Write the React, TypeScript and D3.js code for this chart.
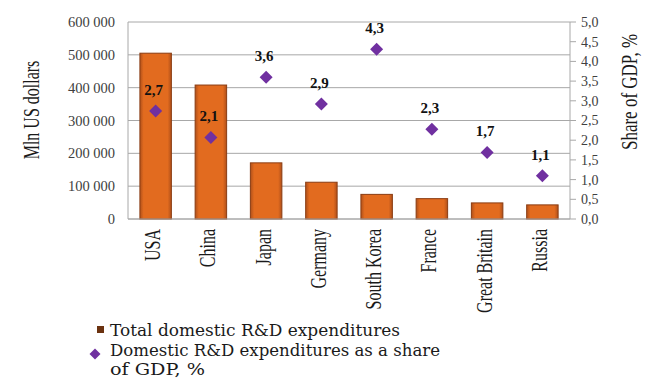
import React from "react";
import * as d3 from "d3";

const categories = ["USA", "China", "Japan", "Germany", "South Korea", "France", "Great Britain", "Russia"];
const expenditures = [505000, 408000, 171000, 112000, 75000, 62000, 49000, 43000];
const gdpShare = [2.74, 2.07, 3.6, 2.92, 4.31, 2.28, 1.69, 1.1];
const leftTicks = [0, 100000, 200000, 300000, 400000, 500000, 600000];
const rightTicks = [0, 0.5, 1, 1.5, 2, 2.5, 3, 3.5, 4, 4.5, 5];
const legendLabels = ["Total domestic R&D expenditures", "Domestic R&D expenditures as a share", "of GDP, %"];

const W = 660;
const H = 385;
const plot = { left: 128, right: 570, top: 22, bottom: 219 };

export default function App() {
  const x = d3
    .scaleBand<string>()
    .domain(categories)
    .range([plot.left, plot.right])
    .paddingInner(0.43)
    .paddingOuter(0.215);
  const yL = d3.scaleLinear().domain([0, 600000]).range([plot.bottom, plot.top]);
  const yR = d3.scaleLinear().domain([0, 5]).range([plot.bottom, plot.top]);
  const fmtL = (v: number) => d3.format(",")(v).replace(/,/g, " ");
  const fmtR = (v: number) => v.toFixed(1).replace(".", ",");
  const serif = "'Liberation Serif', 'Times New Roman', serif";
  const diamond = (cx: number, cy: number, r: number) =>
    `M${cx},${cy - r}L${cx + r},${cy}L${cx},${cy + r}L${cx - r},${cy}Z`;

  return (
    <svg width={W} height={H} style={{ position: "absolute", left: 0, top: 0, background: "#fff" }}>
      <defs>
        <linearGradient id="barGrad" x1="0" x2="1" y1="0" y2="0">
          <stop offset="0%" stopColor="#a9491500" />
          <stop offset="0%" stopColor="#b0501a" />
          <stop offset="12%" stopColor="#e26b1f" />
          <stop offset="88%" stopColor="#e26b1f" />
          <stop offset="100%" stopColor="#b0501a" />
        </linearGradient>
      </defs>
      {/* gridlines */}
      {leftTicks.map((t) => (
        <line key={"g" + t} x1={plot.left} x2={plot.right} y1={yL(t)} y2={yL(t)} stroke="#a8a8a8" strokeWidth={1} />
      ))}
      {/* left axis line */}
      <line x1={plot.left} x2={plot.left} y1={plot.top} y2={plot.bottom} stroke="#a8a8a8" />
      {/* right axis line */}
      <line x1={plot.right} x2={plot.right} y1={plot.top} y2={plot.bottom} stroke="#a8a8a8" />
      {rightTicks.map((t) => (
        <line key={"rt" + t} x1={plot.right} x2={plot.right + 6} y1={yR(t)} y2={yR(t)} stroke="#a8a8a8" />
      ))}
      {/* bars */}
      {categories.map((c, i) => (
        <rect
          key={"b" + c}
          x={x(c)!}
          y={yL(expenditures[i])}
          width={x.bandwidth()}
          height={yL(0) - yL(expenditures[i])}
          fill="url(#barGrad)"
          stroke="#8a3c12"
          strokeWidth={1}
        />
      ))}
      {/* bottom axis */}
      <line x1={plot.left} x2={plot.right} y1={plot.bottom} y2={plot.bottom} stroke="#a8a8a8" />
      {/* diamonds */}
      {categories.map((c, i) => {
        const cx = x(c)! + x.bandwidth() / 2;
        const cy = yR(gdpShare[i]);
        return (
          <g key={"d" + c}>
            <path d={diamond(cx, cy, 6.5)} fill="#7030a0" />
            <text
              x={cx - 2}
              y={cy - 16}
              textAnchor="middle"
              fontFamily={serif}
              fontWeight="bold"
              fontSize={15}
              fill="#111"
            >
              {fmtR(gdpShare[i])}
            </text>
          </g>
        );
      })}
      {/* left tick labels */}
      {leftTicks.map((t) => (
        <text
          key={"lt" + t}
          x={115}
          y={yL(t)}
          dy="0.35em"
          textAnchor="end"
          fontFamily={serif}
          fontSize={14.5}
          fill="#404040"
        >
          {fmtL(t)}
        </text>
      ))}
      {/* right tick labels */}
      {rightTicks.map((t) => (
        <text
          key={"rl" + t}
          x={581}
          y={yR(t)}
          dy="0.35em"
          textAnchor="start"
          fontFamily={serif}
          fontSize={14}
          fill="#404040"
        >
          {fmtR(t)}
        </text>
      ))}
      {/* category labels */}
      {categories.map((c) => {
        const cx = x(c)! + x.bandwidth() / 2 - 3;
        return (
          <g key={"cl" + c} transform={`translate(${cx},229) scale(1.4,1) rotate(-90)`}>
            <text x={0} y={0} dy="0.33em" textAnchor="end" fontFamily={serif} fontSize={16} fill="#1a1a1a">
              {c}
            </text>
          </g>
        );
      })}
      {/* axis titles */}
      <g transform={`translate(32,110) scale(1.45,1) rotate(-90)`}>
        <text x={0} y={0} dy="0.3em" textAnchor="middle" fontFamily={serif} fontSize={16} fill="#1a1a1a">
          Mln US dollars
        </text>
      </g>
      <g transform={`translate(630,92) scale(1.3,1) rotate(-90)`}>
        <text x={0} y={0} dy="0.3em" textAnchor="middle" fontFamily={serif} fontSize={17} fill="#1a1a1a">
          Share of GDP, %
        </text>
      </g>
      {/* legend */}
      <rect x={97} y={326} width={7} height={7} fill="#6b3210" />
      <text
        x={110}
        y={336}
        fontFamily="'DejaVu Serif', serif"
        fontSize={16}
        fill="#1a1a1a"
        textLength={290}
        lengthAdjust="spacingAndGlyphs"
      >
        {legendLabels[0]}
      </text>
      <path d={diamond(95, 354, 5.5)} fill="#7030a0" />
      <text
        x={110}
        y={356}
        fontFamily="'DejaVu Serif', serif"
        fontSize={16}
        fill="#1a1a1a"
        textLength={330}
        lengthAdjust="spacingAndGlyphs"
      >
        {legendLabels[1]}
      </text>
      <text
        x={110}
        y={375}
        fontFamily="'DejaVu Serif', serif"
        fontSize={16}
        fill="#1a1a1a"
        textLength={95}
        lengthAdjust="spacingAndGlyphs"
      >
        {legendLabels[2]}
      </text>
    </svg>
  );
}
